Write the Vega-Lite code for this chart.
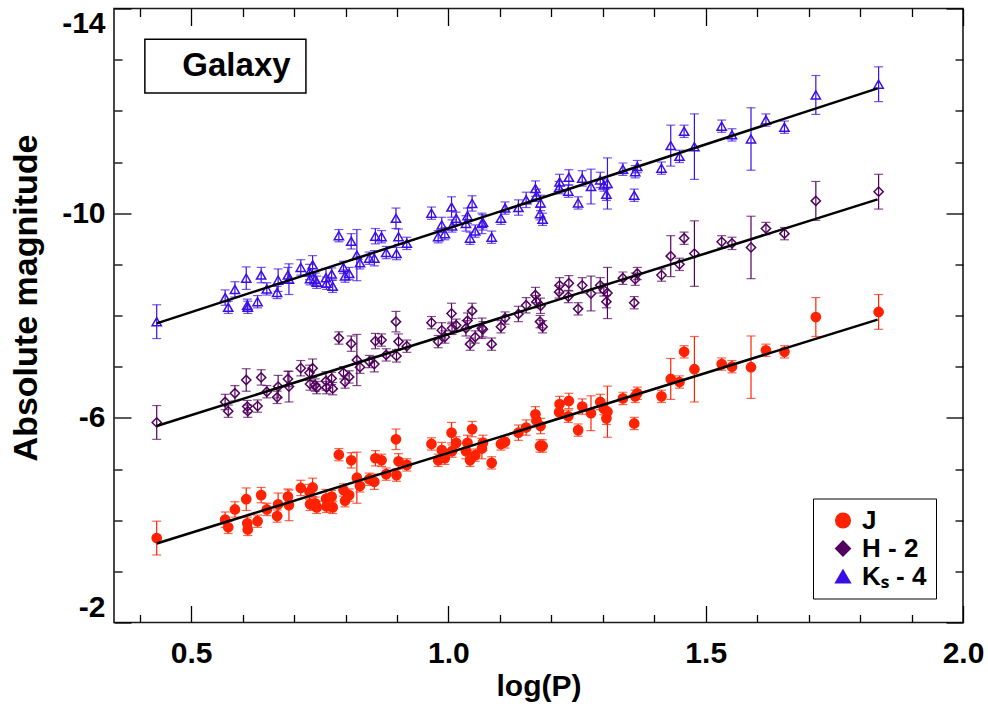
{
"$schema":"https://vega.github.io/schema/vega-lite/v6.json",
"width":849,"height":614,
"autosize":"none",
"padding":{"left":114,"top":8.5,"right":25,"bottom":85.5},
"background":"white",
"config":{"view":{"stroke":"#1a1a1a","strokeWidth":1.6},"font":"Liberation Sans",
 "legend":{"orient":"none","legendX":699,"legendY":490,"padding":9,"strokeColor":"#000","fillColor":"#fff","labelFont":"Liberation Sans","labelFontSize":26,"labelFontWeight":"bold","labelColor":"#000","symbolSize":210,"symbolStrokeWidth":1.6,"symbolOpacity":1,"rowPadding":2,"labelOffset":6,"symbolOffset":8}},
"datasets":{
"obs":[
{"b":"J","x":0.433,"m":-3.65,"e":0.33},{"b":"J","x":0.566,"m":-4.01,"e":0.15},{"b":"J","x":0.572,"m":-3.86,"e":0.12},{"b":"J","x":0.585,"m":-4.21,"e":0.15},{"b":"J","x":0.607,"m":-4.41,"e":0.22},{"b":"J","x":0.609,"m":-3.94,"e":0.12},{"b":"J","x":0.610,"m":-3.82,"e":0.12},{"b":"J","x":0.629,"m":-3.98,"e":0.12},{"b":"J","x":0.636,"m":-4.49,"e":0.15},{"b":"J","x":0.647,"m":-4.21,"e":0.12},
{"b":"J","x":0.667,"m":-4.08,"e":0.12},{"b":"J","x":0.669,"m":-4.31,"e":0.22},{"b":"J","x":0.688,"m":-4.46,"e":0.15},{"b":"J","x":0.690,"m":-4.29,"e":0.30},{"b":"J","x":0.713,"m":-4.63,"e":0.15},{"b":"J","x":0.730,"m":-4.55,"e":0.15},{"b":"J","x":0.736,"m":-4.64,"e":0.18},{"b":"J","x":0.731,"m":-4.31,"e":0.12},{"b":"J","x":0.741,"m":-4.33,"e":0.12},{"b":"J","x":0.744,"m":-4.25,"e":0.12},
{"b":"J","x":0.762,"m":-4.42,"e":0.18},{"b":"J","x":0.763,"m":-4.27,"e":0.12},{"b":"J","x":0.773,"m":-4.46,"e":0.12},{"b":"J","x":0.775,"m":-4.25,"e":0.12},{"b":"J","x":0.787,"m":-5.28,"e":0.12},{"b":"J","x":0.796,"m":-4.59,"e":0.12},{"b":"J","x":0.799,"m":-4.38,"e":0.12},{"b":"J","x":0.807,"m":-4.49,"e":0.12},{"b":"J","x":0.811,"m":-5.17,"e":0.15},{"b":"J","x":0.822,"m":-4.83,"e":0.50},
{"b":"J","x":0.828,"m":-4.67,"e":0.12},{"b":"J","x":0.846,"m":-4.80,"e":0.12},{"b":"J","x":0.856,"m":-4.75,"e":0.15},{"b":"J","x":0.858,"m":-5.21,"e":0.15},{"b":"J","x":0.870,"m":-5.17,"e":0.12},{"b":"J","x":0.879,"m":-4.90,"e":0.12},{"b":"J","x":0.898,"m":-5.58,"e":0.20},{"b":"J","x":0.899,"m":-4.88,"e":0.12},{"b":"J","x":0.903,"m":-5.15,"e":0.15},{"b":"J","x":0.919,"m":-5.08,"e":0.12},
{"b":"J","x":0.967,"m":-5.49,"e":0.12},{"b":"J","x":0.980,"m":-5.17,"e":0.12},{"b":"J","x":0.987,"m":-5.37,"e":0.15},{"b":"J","x":0.993,"m":-5.21,"e":0.12},{"b":"J","x":1.006,"m":-5.71,"e":0.20},{"b":"J","x":1.007,"m":-5.35,"e":0.12},{"b":"J","x":1.015,"m":-5.51,"e":0.12},{"b":"J","x":1.034,"m":-5.35,"e":0.15},{"b":"J","x":1.037,"m":-5.51,"e":0.15},{"b":"J","x":1.042,"m":-5.17,"e":0.12},
{"b":"J","x":1.046,"m":-5.78,"e":0.15},{"b":"J","x":1.052,"m":-5.27,"e":0.12},{"b":"J","x":1.065,"m":-5.40,"e":0.20},{"b":"J","x":1.067,"m":-5.51,"e":0.15},{"b":"J","x":1.084,"m":-5.12,"e":0.12},{"b":"J","x":1.102,"m":-5.49,"e":0.12},{"b":"J","x":1.110,"m":-5.53,"e":0.12},{"b":"J","x":1.136,"m":-5.71,"e":0.15},{"b":"J","x":1.151,"m":-5.81,"e":0.15},{"b":"J","x":1.169,"m":-6.07,"e":0.15},
{"b":"J","x":1.171,"m":-5.95,"e":0.12},{"b":"J","x":1.179,"m":-5.84,"e":0.15},{"b":"J","x":1.178,"m":-5.45,"e":0.12},{"b":"J","x":1.183,"m":-5.45,"e":0.12},{"b":"J","x":1.216,"m":-6.27,"e":0.15},{"b":"J","x":1.215,"m":-6.11,"e":0.12},{"b":"J","x":1.234,"m":-6.33,"e":0.15},{"b":"J","x":1.233,"m":-6.03,"e":0.12},{"b":"J","x":1.252,"m":-5.76,"e":0.12},{"b":"J","x":1.260,"m":-6.22,"e":0.15},
{"b":"J","x":1.277,"m":-6.09,"e":0.34},{"b":"J","x":1.295,"m":-6.31,"e":0.15},{"b":"J","x":1.302,"m":-6.18,"e":0.12},{"b":"J","x":1.309,"m":-6.12,"e":0.50},{"b":"J","x":1.307,"m":-5.99,"e":0.12},{"b":"J","x":1.339,"m":-6.38,"e":0.12},{"b":"J","x":1.361,"m":-5.89,"e":0.12},{"b":"J","x":1.367,"m":-6.48,"e":0.12},{"b":"J","x":1.363,"m":-6.42,"e":0.12},{"b":"J","x":1.414,"m":-6.42,"e":0.12},
{"b":"J","x":1.432,"m":-6.76,"e":0.40},{"b":"J","x":1.449,"m":-6.70,"e":0.12},{"b":"J","x":1.458,"m":-7.29,"e":0.12},{"b":"J","x":1.478,"m":-6.95,"e":0.64},{"b":"J","x":1.531,"m":-7.05,"e":0.12},{"b":"J","x":1.551,"m":-7.00,"e":0.12},{"b":"J","x":1.588,"m":-6.99,"e":0.61},{"b":"J","x":1.617,"m":-7.32,"e":0.12},{"b":"J","x":1.653,"m":-7.29,"e":0.12},{"b":"J","x":1.714,"m":-7.97,"e":0.38},{"b":"J","x":1.836,"m":-8.07,"e":0.34},
{"b":"H - 2","x":0.433,"m":-5.91,"e":0.33},{"b":"H - 2","x":0.566,"m":-6.31,"e":0.15},{"b":"H - 2","x":0.572,"m":-6.13,"e":0.12},{"b":"H - 2","x":0.585,"m":-6.48,"e":0.15},{"b":"H - 2","x":0.607,"m":-6.74,"e":0.22},{"b":"H - 2","x":0.609,"m":-6.22,"e":0.12},{"b":"H - 2","x":0.610,"m":-6.13,"e":0.12},{"b":"H - 2","x":0.629,"m":-6.23,"e":0.12},{"b":"H - 2","x":0.636,"m":-6.79,"e":0.15},{"b":"H - 2","x":0.647,"m":-6.51,"e":0.12},
{"b":"H - 2","x":0.667,"m":-6.40,"e":0.12},{"b":"H - 2","x":0.669,"m":-6.61,"e":0.22},{"b":"H - 2","x":0.688,"m":-6.76,"e":0.15},{"b":"H - 2","x":0.690,"m":-6.61,"e":0.30},{"b":"H - 2","x":0.713,"m":-6.97,"e":0.15},{"b":"H - 2","x":0.730,"m":-6.88,"e":0.15},{"b":"H - 2","x":0.736,"m":-6.97,"e":0.18},{"b":"H - 2","x":0.731,"m":-6.66,"e":0.12},{"b":"H - 2","x":0.741,"m":-6.64,"e":0.12},{"b":"H - 2","x":0.744,"m":-6.59,"e":0.12},
{"b":"H - 2","x":0.762,"m":-6.72,"e":0.18},{"b":"H - 2","x":0.763,"m":-6.59,"e":0.12},{"b":"H - 2","x":0.773,"m":-6.77,"e":0.12},{"b":"H - 2","x":0.775,"m":-6.57,"e":0.12},{"b":"H - 2","x":0.787,"m":-7.56,"e":0.12},{"b":"H - 2","x":0.796,"m":-6.88,"e":0.12},{"b":"H - 2","x":0.799,"m":-6.70,"e":0.12},{"b":"H - 2","x":0.807,"m":-6.80,"e":0.12},{"b":"H - 2","x":0.811,"m":-7.45,"e":0.15},{"b":"H - 2","x":0.822,"m":-7.13,"e":0.50},
{"b":"H - 2","x":0.828,"m":-6.99,"e":0.12},{"b":"H - 2","x":0.846,"m":-7.10,"e":0.12},{"b":"H - 2","x":0.856,"m":-7.05,"e":0.15},{"b":"H - 2","x":0.858,"m":-7.50,"e":0.15},{"b":"H - 2","x":0.870,"m":-7.52,"e":0.12},{"b":"H - 2","x":0.879,"m":-7.23,"e":0.12},{"b":"H - 2","x":0.898,"m":-7.88,"e":0.20},{"b":"H - 2","x":0.899,"m":-7.21,"e":0.12},{"b":"H - 2","x":0.903,"m":-7.49,"e":0.15},{"b":"H - 2","x":0.919,"m":-7.40,"e":0.12},
{"b":"H - 2","x":0.967,"m":-7.86,"e":0.12},{"b":"H - 2","x":0.980,"m":-7.49,"e":0.12},{"b":"H - 2","x":0.987,"m":-7.71,"e":0.15},{"b":"H - 2","x":0.993,"m":-7.58,"e":0.12},{"b":"H - 2","x":1.006,"m":-8.04,"e":0.20},{"b":"H - 2","x":1.007,"m":-7.75,"e":0.12},{"b":"H - 2","x":1.015,"m":-7.81,"e":0.12},{"b":"H - 2","x":1.034,"m":-7.75,"e":0.15},{"b":"H - 2","x":1.037,"m":-7.90,"e":0.15},{"b":"H - 2","x":1.042,"m":-7.44,"e":0.12},
{"b":"H - 2","x":1.046,"m":-8.09,"e":0.15},{"b":"H - 2","x":1.052,"m":-7.58,"e":0.12},{"b":"H - 2","x":1.065,"m":-7.75,"e":0.20},{"b":"H - 2","x":1.067,"m":-7.73,"e":0.15},{"b":"H - 2","x":1.084,"m":-7.44,"e":0.12},{"b":"H - 2","x":1.102,"m":-7.78,"e":0.12},{"b":"H - 2","x":1.110,"m":-7.95,"e":0.12},{"b":"H - 2","x":1.136,"m":-8.03,"e":0.15},{"b":"H - 2","x":1.151,"m":-8.20,"e":0.15},{"b":"H - 2","x":1.169,"m":-8.40,"e":0.15},
{"b":"H - 2","x":1.171,"m":-8.27,"e":0.12},{"b":"H - 2","x":1.179,"m":-8.19,"e":0.15},{"b":"H - 2","x":1.178,"m":-7.88,"e":0.12},{"b":"H - 2","x":1.183,"m":-7.78,"e":0.12},{"b":"H - 2","x":1.216,"m":-8.59,"e":0.15},{"b":"H - 2","x":1.215,"m":-8.46,"e":0.12},{"b":"H - 2","x":1.234,"m":-8.63,"e":0.15},{"b":"H - 2","x":1.233,"m":-8.37,"e":0.12},{"b":"H - 2","x":1.252,"m":-8.13,"e":0.12},{"b":"H - 2","x":1.260,"m":-8.59,"e":0.15},
{"b":"H - 2","x":1.277,"m":-8.43,"e":0.34},{"b":"H - 2","x":1.295,"m":-8.59,"e":0.15},{"b":"H - 2","x":1.302,"m":-8.50,"e":0.12},{"b":"H - 2","x":1.309,"m":-8.44,"e":0.50},{"b":"H - 2","x":1.307,"m":-8.27,"e":0.12},{"b":"H - 2","x":1.339,"m":-8.73,"e":0.12},{"b":"H - 2","x":1.361,"m":-8.25,"e":0.12},{"b":"H - 2","x":1.367,"m":-8.82,"e":0.12},{"b":"H - 2","x":1.363,"m":-8.71,"e":0.12},{"b":"H - 2","x":1.414,"m":-8.79,"e":0.12},
{"b":"H - 2","x":1.432,"m":-9.16,"e":0.40},{"b":"H - 2","x":1.449,"m":-9.00,"e":0.12},{"b":"H - 2","x":1.458,"m":-9.51,"e":0.12},{"b":"H - 2","x":1.478,"m":-9.21,"e":0.64},{"b":"H - 2","x":1.531,"m":-9.44,"e":0.12},{"b":"H - 2","x":1.551,"m":-9.41,"e":0.12},{"b":"H - 2","x":1.588,"m":-9.33,"e":0.61},{"b":"H - 2","x":1.617,"m":-9.70,"e":0.12},{"b":"H - 2","x":1.653,"m":-9.60,"e":0.12},{"b":"H - 2","x":1.714,"m":-10.24,"e":0.38},{"b":"H - 2","x":1.836,"m":-10.42,"e":0.34},
{"b":"Kₛ - 4","x":0.433,"m":-7.88,"e":0.33},{"b":"Kₛ - 4","x":0.566,"m":-8.35,"e":0.15},{"b":"Kₛ - 4","x":0.572,"m":-8.16,"e":0.12},{"b":"Kₛ - 4","x":0.585,"m":-8.51,"e":0.15},{"b":"Kₛ - 4","x":0.607,"m":-8.73,"e":0.22},{"b":"Kₛ - 4","x":0.609,"m":-8.20,"e":0.12},{"b":"Kₛ - 4","x":0.610,"m":-8.16,"e":0.12},{"b":"Kₛ - 4","x":0.629,"m":-8.27,"e":0.12},{"b":"Kₛ - 4","x":0.636,"m":-8.79,"e":0.15},{"b":"Kₛ - 4","x":0.647,"m":-8.52,"e":0.12},
{"b":"Kₛ - 4","x":0.667,"m":-8.45,"e":0.12},{"b":"Kₛ - 4","x":0.669,"m":-8.69,"e":0.22},{"b":"Kₛ - 4","x":0.688,"m":-8.79,"e":0.15},{"b":"Kₛ - 4","x":0.690,"m":-8.71,"e":0.30},{"b":"Kₛ - 4","x":0.713,"m":-8.94,"e":0.15},{"b":"Kₛ - 4","x":0.730,"m":-8.85,"e":0.15},{"b":"Kₛ - 4","x":0.736,"m":-8.99,"e":0.18},{"b":"Kₛ - 4","x":0.731,"m":-8.72,"e":0.12},{"b":"Kₛ - 4","x":0.741,"m":-8.71,"e":0.12},{"b":"Kₛ - 4","x":0.744,"m":-8.65,"e":0.12},
{"b":"Kₛ - 4","x":0.762,"m":-8.74,"e":0.18},{"b":"Kₛ - 4","x":0.763,"m":-8.63,"e":0.12},{"b":"Kₛ - 4","x":0.773,"m":-8.81,"e":0.12},{"b":"Kₛ - 4","x":0.775,"m":-8.57,"e":0.12},{"b":"Kₛ - 4","x":0.787,"m":-9.56,"e":0.12},{"b":"Kₛ - 4","x":0.796,"m":-8.94,"e":0.12},{"b":"Kₛ - 4","x":0.799,"m":-8.77,"e":0.12},{"b":"Kₛ - 4","x":0.807,"m":-8.82,"e":0.12},{"b":"Kₛ - 4","x":0.811,"m":-9.45,"e":0.15},{"b":"Kₛ - 4","x":0.822,"m":-9.18,"e":0.50},
{"b":"Kₛ - 4","x":0.828,"m":-9.03,"e":0.12},{"b":"Kₛ - 4","x":0.846,"m":-9.12,"e":0.12},{"b":"Kₛ - 4","x":0.856,"m":-9.12,"e":0.15},{"b":"Kₛ - 4","x":0.858,"m":-9.55,"e":0.15},{"b":"Kₛ - 4","x":0.870,"m":-9.54,"e":0.12},{"b":"Kₛ - 4","x":0.879,"m":-9.23,"e":0.12},{"b":"Kₛ - 4","x":0.898,"m":-9.90,"e":0.20},{"b":"Kₛ - 4","x":0.899,"m":-9.21,"e":0.12},{"b":"Kₛ - 4","x":0.903,"m":-9.54,"e":0.15},{"b":"Kₛ - 4","x":0.919,"m":-9.41,"e":0.12},
{"b":"Kₛ - 4","x":0.967,"m":-10.00,"e":0.12},{"b":"Kₛ - 4","x":0.980,"m":-9.54,"e":0.12},{"b":"Kₛ - 4","x":0.987,"m":-9.77,"e":0.15},{"b":"Kₛ - 4","x":0.993,"m":-9.60,"e":0.12},{"b":"Kₛ - 4","x":1.006,"m":-10.12,"e":0.20},{"b":"Kₛ - 4","x":1.007,"m":-9.75,"e":0.12},{"b":"Kₛ - 4","x":1.015,"m":-9.90,"e":0.12},{"b":"Kₛ - 4","x":1.034,"m":-9.80,"e":0.15},{"b":"Kₛ - 4","x":1.037,"m":-9.95,"e":0.15},{"b":"Kₛ - 4","x":1.042,"m":-9.51,"e":0.12},
{"b":"Kₛ - 4","x":1.046,"m":-10.19,"e":0.15},{"b":"Kₛ - 4","x":1.052,"m":-9.65,"e":0.12},{"b":"Kₛ - 4","x":1.065,"m":-9.80,"e":0.20},{"b":"Kₛ - 4","x":1.067,"m":-9.82,"e":0.15},{"b":"Kₛ - 4","x":1.084,"m":-9.53,"e":0.12},{"b":"Kₛ - 4","x":1.102,"m":-9.90,"e":0.12},{"b":"Kₛ - 4","x":1.110,"m":-10.10,"e":0.12},{"b":"Kₛ - 4","x":1.136,"m":-10.11,"e":0.15},{"b":"Kₛ - 4","x":1.151,"m":-10.26,"e":0.15},{"b":"Kₛ - 4","x":1.169,"m":-10.48,"e":0.15},
{"b":"Kₛ - 4","x":1.171,"m":-10.35,"e":0.12},{"b":"Kₛ - 4","x":1.179,"m":-10.20,"e":0.15},{"b":"Kₛ - 4","x":1.178,"m":-9.99,"e":0.12},{"b":"Kₛ - 4","x":1.183,"m":-9.88,"e":0.12},{"b":"Kₛ - 4","x":1.216,"m":-10.61,"e":0.15},{"b":"Kₛ - 4","x":1.215,"m":-10.50,"e":0.12},{"b":"Kₛ - 4","x":1.234,"m":-10.70,"e":0.15},{"b":"Kₛ - 4","x":1.233,"m":-10.43,"e":0.12},{"b":"Kₛ - 4","x":1.252,"m":-10.20,"e":0.12},{"b":"Kₛ - 4","x":1.260,"m":-10.68,"e":0.15},
{"b":"Kₛ - 4","x":1.277,"m":-10.52,"e":0.34},{"b":"Kₛ - 4","x":1.295,"m":-10.65,"e":0.15},{"b":"Kₛ - 4","x":1.302,"m":-10.55,"e":0.12},{"b":"Kₛ - 4","x":1.309,"m":-10.58,"e":0.50},{"b":"Kₛ - 4","x":1.307,"m":-10.37,"e":0.12},{"b":"Kₛ - 4","x":1.339,"m":-10.86,"e":0.12},{"b":"Kₛ - 4","x":1.361,"m":-10.35,"e":0.12},{"b":"Kₛ - 4","x":1.367,"m":-10.91,"e":0.12},{"b":"Kₛ - 4","x":1.363,"m":-10.81,"e":0.12},{"b":"Kₛ - 4","x":1.414,"m":-10.88,"e":0.12},
{"b":"Kₛ - 4","x":1.432,"m":-11.32,"e":0.40},{"b":"Kₛ - 4","x":1.449,"m":-11.11,"e":0.12},{"b":"Kₛ - 4","x":1.458,"m":-11.60,"e":0.12},{"b":"Kₛ - 4","x":1.478,"m":-11.30,"e":0.64},{"b":"Kₛ - 4","x":1.531,"m":-11.70,"e":0.12},{"b":"Kₛ - 4","x":1.551,"m":-11.53,"e":0.12},{"b":"Kₛ - 4","x":1.588,"m":-11.45,"e":0.61},{"b":"Kₛ - 4","x":1.617,"m":-11.82,"e":0.12},{"b":"Kₛ - 4","x":1.653,"m":-11.68,"e":0.12},{"b":"Kₛ - 4","x":1.714,"m":-12.31,"e":0.38},{"b":"Kₛ - 4","x":1.836,"m":-12.52,"e":0.34}
],
"fit":[
{"b":"J","x":0.433,"m":-3.545},{"b":"J","x":1.834,"m":-7.92},
{"b":"H - 2","x":0.433,"m":-5.84},{"b":"H - 2","x":1.834,"m":-10.27},
{"b":"Kₛ - 4","x":0.433,"m":-7.845},{"b":"Kₛ - 4","x":1.834,"m":-12.44}
]},
"resolve":{"axis":{"x":"independent","y":"independent"}},
"layer":[
{"data":{"name":"obs"},
 "mark":{"type":"errorbar","ticks":true,"size":9,"thickness":1.2},
 "encoding":{
  "x":{"field":"x","type":"quantitative","scale":{"domain":[0.35,2.0],"nice":false,"zero":false},"axis":null},
  "y":{"field":"m","type":"quantitative","scale":{"domain":[-14,-2],"reverse":true,"nice":false,"zero":false},"axis":null},
  "yError":{"field":"e"},
  "color":{"field":"b","type":"nominal","title":null,"scale":{"domain":["J","H - 2","Kₛ - 4"],"range":["#ff2200","#52005e","#3a0ee6"]}}}},
{"data":{"name":"obs"},
 "mark":{"type":"point","size":85,"strokeWidth":1.5,"opacity":1,"filled":false},
 "encoding":{
  "x":{"field":"x","type":"quantitative","axis":{"orient":"bottom","values":[0.5,1.0,1.5,2.0],"format":".1f","tickSize":-17,"tickWidth":1.3,"tickColor":"#000","domain":false,"grid":false,"labelFlush":false,"labelOverlap":false,"labelBound":false,"labelFont":"Liberation Sans","labelFontSize":30,"labelFontWeight":"bold","labelColor":"#000","labelPadding":33,"labelBaseline":"top","title":"log(P)","titleFont":"Liberation Sans","titleFontSize":30,"titleFontWeight":"bold","titleColor":"#000","titleY":49,"titleBaseline":"top"}},
  "y":{"field":"m","type":"quantitative","axis":{"orient":"left","values":[-14,-10,-6,-2],"labelExpr":"toString(datum.value)","tickSize":-17,"tickWidth":1.3,"tickColor":"#000","domain":false,"grid":false,"labelFlush":true,"labelOverlap":false,"labelBound":false,"labelFont":"Liberation Sans","labelFontSize":30,"labelFontWeight":"bold","labelColor":"#000","labelPadding":26,"title":"Absolute magnitude","titleFont":"Liberation Sans","titleFontSize":34,"titleFontWeight":"bold","titleColor":"#000","titleX":-78,"titleY":289,"titleAngle":-90,"titleBaseline":"alphabetic","titleAlign":"center"}},
  "color":{"field":"b","type":"nominal","title":null,"scale":{"domain":["J","H - 2","Kₛ - 4"],"range":["#ff2200","#52005e","#3a0ee6"]},
    "legend":{"encode":{"symbols":{"fill":{"value":{"expr":"datum.value === 'J' ? '#ff2200' : 'transparent'"}},"opacity":{"value":1}}}}},
  "shape":{"field":"b","type":"nominal","title":null,"scale":{"domain":["J","H - 2","Kₛ - 4"],"range":["circle","diamond","triangle-up"]}},
  "fill":{"field":"b","type":"nominal","title":null,"legend":null,"scale":{"domain":["J","H - 2","Kₛ - 4"],"range":["#ff2200","rgba(255,255,255,0)","rgba(255,255,255,0)"]}}}},
{"data":{"name":"fit"},
 "mark":{"type":"line","color":"#000","strokeWidth":2.5},
 "encoding":{
  "x":{"field":"x","type":"quantitative","axis":{"orient":"top","values":[0.5,1.0,1.5,2.0],"tickSize":-17,"tickWidth":1.3,"tickColor":"#000","domain":false,"grid":false,"labels":false,"title":null}},
  "y":{"field":"m","type":"quantitative","axis":{"orient":"right","values":[-14,-10,-6,-2],"tickSize":-17,"tickWidth":1.3,"tickColor":"#000","domain":false,"grid":false,"labels":false,"title":null}},
  "detail":{"field":"b","type":"nominal"}}},
{"data":{"values":[{}]},
 "mark":{"type":"rect","fill":"#fff","stroke":"#000","strokeWidth":1.5},
 "encoding":{
  "x":{"datum":0.410,"type":"quantitative","axis":{"orient":"bottom","values":[0.4,0.6,0.7,0.8,0.9,1.1,1.2,1.3,1.4,1.6,1.7,1.8,1.9],"tickSize":-8,"tickWidth":1.3,"tickColor":"#000","domain":false,"grid":false,"labels":false,"title":null}},
  "x2":{"datum":0.723},
  "y":{"datum":-13.40,"type":"quantitative","axis":{"orient":"left","values":[-13,-12,-11,-9,-8,-7,-5,-4,-3],"tickSize":-8,"tickWidth":1.3,"tickColor":"#000","domain":false,"grid":false,"labels":false,"title":null}},
  "y2":{"datum":-12.35}}},
{"data":{"values":[{}]},
 "mark":{"type":"text","text":"Galaxy","font":"Liberation Sans","fontSize":33,"fontWeight":"bold","color":"#000","align":"center","baseline":"middle"},
 "encoding":{
  "x":{"datum":0.588,"type":"quantitative","axis":{"orient":"top","values":[0.4,0.6,0.7,0.8,0.9,1.1,1.2,1.3,1.4,1.6,1.7,1.8,1.9],"tickSize":-8,"tickWidth":1.3,"tickColor":"#000","domain":false,"grid":false,"labels":false,"title":null}},
  "y":{"datum":-12.88,"type":"quantitative","axis":{"orient":"right","values":[-13,-12,-11,-9,-8,-7,-5,-4,-3],"tickSize":-8,"tickWidth":1.3,"tickColor":"#000","domain":false,"grid":false,"labels":false,"title":null}}}}
]
}
